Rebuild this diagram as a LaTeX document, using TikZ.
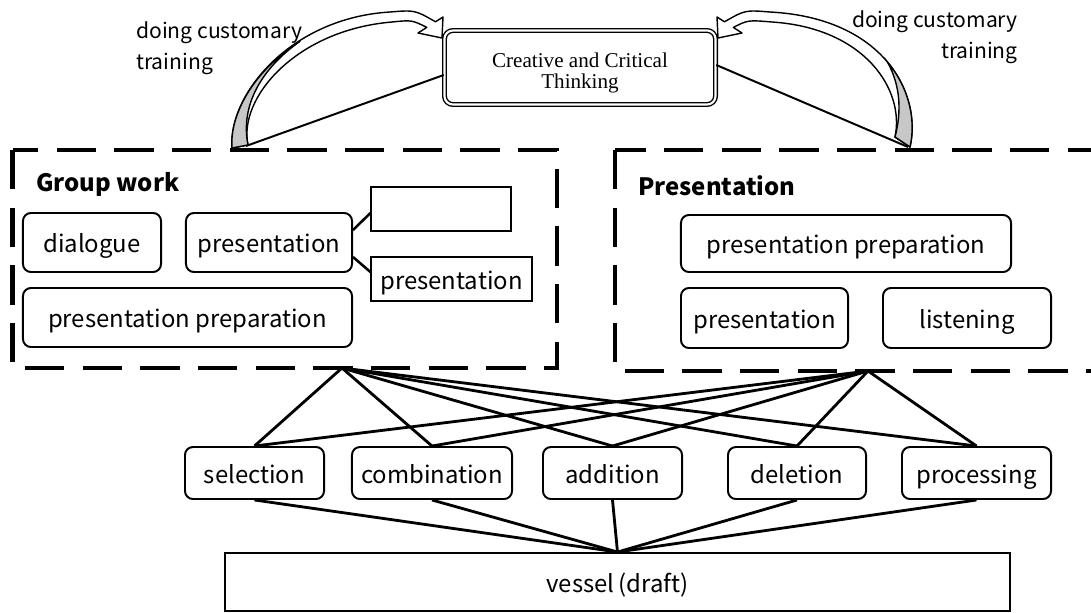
\documentclass[tikz,border=0pt]{standalone}
\usepackage{fontspec}
\newfontfamily\jpfont{Noto Sans CJK JP}
\newfontfamily\timesfont{Liberation Serif}
\usetikzlibrary{calc}
\begin{document}
\begin{tikzpicture}[x=0.025cm,y=-0.025cm,
    rbox/.style={draw,line width=1.4pt,rounded corners=5.7pt,inner sep=0pt,minimum height=1.475cm,text height=18.6pt,text depth=4pt,font=\jpfont\fontsize{17}{20}\selectfont},
    tbox/.style={draw,line width=0.8pt,inner sep=0pt,minimum height=1.1cm,text height=18.6pt,text depth=4pt,font=\jpfont\fontsize{17}{20}\selectfont},
    dashbox/.style={line width=3.5pt,dash pattern=on 28pt off 13pt},
    link/.style={line width=2pt},
    ribbon/.style={line width=1pt,fill=white,line join=round},
    ribbonback/.style={line width=1pt,fill=black!22},
    lbl/.style={font=\jpfont\fontsize{15}{22}\selectfont,inner sep=0pt},
    head/.style={font=\jpfont\bfseries\fontsize{17}{20}\selectfont,anchor=west,inner sep=0pt}]
    \useasboundingbox (0,0) rectangle (1091,612);
    \draw[dashbox] (12.5,150) rectangle (557,368);
    \draw[dashbox] (615,150) rectangle (1130,371);
    \coordinate (gwhub) at (342,368);
    \coordinate (prhub) at (868,371);
    \coordinate (gwtop) at (246,146);
    \coordinate (prtop) at (908,147);
    \draw[ribbon] (232,148) .. controls (228,95) and (290,18) .. (390,12) .. controls (415,10) .. (435.5,21.8) -- (443,17) -- (442,38) -- (418,33) -- (426.8,27.4) .. controls (412,20) .. (392,22) .. controls (296,30) and (238,98) .. (248,145) -- cycle;
    \draw[ribbonback] (232,148) .. controls (229.4,113.6) and (254.7,69.8) .. (300.2,41.2) .. controls (262,68) and (240,105) .. (248,145) -- cycle;
    \draw[ribbon] (910,147) .. controls (922,95) and (885,18) .. (770,12) .. controls (745,10) .. (724.5,21.8) -- (717,17) -- (718,38) -- (742,33) -- (733.3,27.4) .. controls (748,20) .. (772,22) .. controls (865,28) and (905,90) .. (895,137) -- cycle;
    \draw[ribbonback] (910,147) .. controls (916,121) and (909.75,88.75) .. (887.6,62.25) .. controls (900,85) and (902,110) .. (895,137) -- cycle;
    \node[draw,double,line width=1pt,double distance=1.5pt,rounded corners=6pt,minimum width=6.775cm,minimum height=1.85cm,inner sep=0pt] (creative) at (580,67.5) {};
    \node[align=center,inner sep=0pt,font=\timesfont\fontsize{15}{14.3}\selectfont] (creativetext) at (580,73) {Creative and Critical\\Thinking};
    \node[lbl,anchor=west,align=left] (trainl) at (136,48.5) {doing customary\\training};
    \node[lbl,anchor=east,align=right] (trainr) at (1018,37) {doing customary\\training};
    \draw[line width=1.4pt] ($(creative.west)+(0,7.5)$) -- (gwtop);
    \draw[line width=1.4pt] ($(creative.east)+(0,-2.5)$) -- (prtop);
    \node[head] (gwlabel) at (36,184) {Group work};
    \node[rbox,minimum width=3.45cm] (dialogue) at (92,242.5) {dialogue};
    \node[rbox,minimum width=4.15cm] (gwpres) at (269,242.5) {presentation};
    \node[tbox,minimum width=3.5cm] (blank) at (441,209) {};
    \node[tbox,minimum width=4.025cm] (gwpres2) at (451.5,279) {presentation};
    \node[rbox,minimum width=8.225cm] (gwprep) at (187.5,317.5) {presentation preparation};
    \draw[line width=1.8pt] ($(gwpres.east)+(0,-12.5)$) -- ($(blank.west)+(0,4)$);
    \draw[line width=1.8pt] ($(gwpres.east)+(0,14.5)$) -- ($(gwpres2.west)+(0,-7)$);
    \node[head] (prlabel) at (638,186) {Presentation};
    \node[rbox,minimum width=8.25cm,minimum height=1.425cm] (prprep) at (846,243.5) {presentation preparation};
    \node[rbox,minimum width=4.175cm,minimum height=1.5cm] (prpres) at (764.5,318) {presentation};
    \node[rbox,minimum width=4.2cm,minimum height=1.5cm] (listen) at (967,318) {listening};
    \node[rbox,minimum width=3.475cm,minimum height=1.3cm] (sel) at (254.5,473) {selection};
    \node[rbox,minimum width=4cm,minimum height=1.3cm] (comb) at (432,473) {combination};
    \node[rbox,minimum width=3.475cm,minimum height=1.3cm] (add) at (612.5,473) {addition};
    \node[rbox,minimum width=3.45cm,minimum height=1.3cm] (del) at (797,473) {deletion};
    \node[rbox,minimum width=3.725cm,minimum height=1.3cm] (proc) at (976.5,473) {processing};
    \node[draw,line width=1.4pt,inner sep=0pt,minimum width=19.625cm,minimum height=1.45cm,text height=18.6pt,text depth=4pt,font=\jpfont\fontsize{17}{20}\selectfont] (vessel) at (617.5,582) {vessel\,(draft)};
    \foreach \n in {sel,comb,add,del,proc} {
        \draw[link] (gwhub) -- (\n.north);
        \draw[link] (prhub) -- (\n.north);
        \draw[link] (\n.south) -- (vessel.north);
    }
\end{tikzpicture}
\end{document}
